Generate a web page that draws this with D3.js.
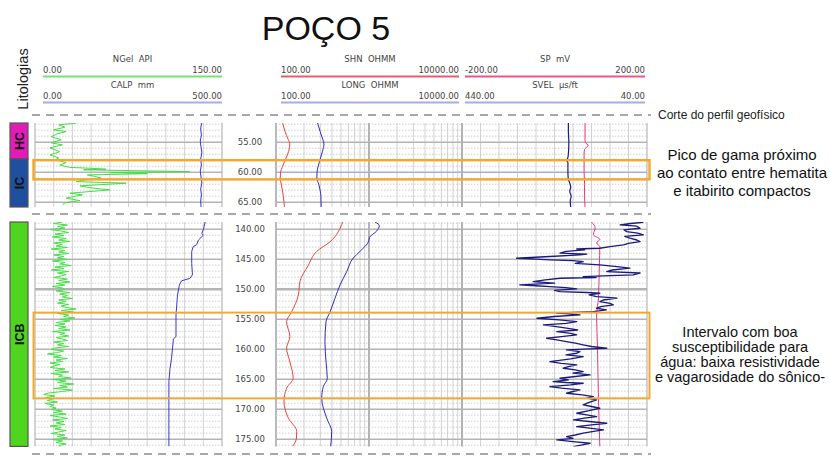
<!DOCTYPE html>
<html lang="pt">
<head>
<meta charset="utf-8">
<title>POÇO 5</title>
<script src="https://cdn.jsdelivr.net/npm/d3@7"></script>
<style>
  body { margin: 0; background: #fff; }
  svg { display: block; }
</style>
</head>
<body>
<svg id="chart" width="830" height="469"></svg>
<script>
// ===== データ =====

// 区間（深度 m）
const topInterval = [51.8, 65.8];
const bottomInterval = [138.8, 176.2];
const topDepthTicks = [55, 60, 65];
const bottomDepthTicks = [140, 145, 150, 155, 160, 165, 170, 175];

// ヘッダー
const curveNames = ['NGel  API', 'CALP  mm', 'SHN  OHMM', 'LONG  OHMM', 'SP  mV', 'SVEL  µs/ft'];
const curveMins = ['0.00', '0.00', '100.00', '100.00', '-200.00', '440.00'];
const curveMaxs = ['150.00', '500.00', '10000.00', '10000.00', '200.00', '40.00'];

// 岩相
const lithoNames = ['HC', 'IC', 'ICB'];
const lithoTops = [51.8, 57.8, 138.8];
const lithoBases = [57.8, 65.8, 176.2];

// オレンジ枠
const highlightTops = [58.0, 153.9];
const highlightBases = [61.2, 168.2];

// 注記
const cutLabel = 'Corte do perfil geofísico';
const noteTop = ['Pico de gama próximo', 'ao contato entre hematita', 'e itabirito compactos'];
const noteBottom = ['Intervalo com boa', 'susceptibilidade para', 'água: baixa resistividade', 'e vagarosidade do sônico-'];

// --- 上部区間の曲線 ---
const grTopDepth = [51.83, 52.1, 52.5, 52.95, 53.23, 53.6, 54.07, 54.6, 55.1, 55.45, 55.95, 56.57, 57.12, 57.6, 57.95, 58.4, 58.8, 59.2, 59.35, 59.5, 59.6, 59.75, 59.9, 60.07, 60.25, 60.45, 60.7, 61.0, 61.3, 61.57, 61.83, 62.28, 62.6, 62.95, 63.5, 63.78, 64.1, 64.33, 64.73, 65.1, 65.45];
const grTopValue = [33, 19, 24, 15, 25, 18, 13, 21, 13, 22, 12, 20, 12, 19, 16, 25, 20, 28, 45, 57, 39, 80, 124, 60, 90, 42, 48, 53, 40, 33, 73, 36, 45, 60, 28, 38, 30, 25, 36, 24, 22];

const calpTopDepth = [51.8, 52.8, 53.8, 54.8, 55.8, 56.8, 57.8, 58.8, 59.8, 60.8, 61.8, 62.8, 63.8, 64.8, 65.8];
const calpTopValue = [446, 443, 445, 442, 444, 446, 443, 445, 442, 444, 446, 443, 445, 443, 444];

const resTopDepth = [51.8, 53.2, 54.5, 55.3, 56.5, 57.8, 59, 60, 61, 62, 63, 64, 65.8];
const shnTopValue = [118, 125, 135, 141, 137, 127, 118, 112, 111, 114, 117, 120, 123];
const longTopValue = [280, 298, 318, 328, 316, 299, 284, 276, 275, 288, 298, 304, 306];

const spTopDepth = [51.8, 53, 54.6, 55.1, 55.5, 55.8, 56.2, 57, 58, 60, 62, 64, 65.8];
const spTopValue = [66, 66, 66, 67, 73, 70, 65, 64, 64, 64, 65, 65, 66];

const svelTopDepth = [51.8, 53, 55, 57, 57.8, 58.0, 58.4, 60, 61.2, 61.8, 62.5, 63.2, 64, 64.8, 65.8];
const svelTopValue = [210, 210, 209, 210, 212, 214, 211, 211, 210, 207, 205, 207, 204, 206, 205];

// --- 下部区間の曲線 ---
const grBottomStart = 138.8, grBottomStep = 0.25;
const grBottomValue = [22, 15, 26, 18, 24, 12, 21, 27, 16, 23, 14, 25, 19, 28, 15, 22, 17, 26, 13, 24, 19, 27, 15, 23, 18,
  26, 14, 24, 20, 29, 16, 23, 13, 27, 18, 25, 21, 15, 26, 19, 28, 17, 24, 14, 22,
  24, 17, 28, 20, 26, 22, 30, 19, 25, 18, 27, 21,
  25, 33, 21, 31, 18, 27, 23, 32, 20, 28, 17, 24,
  16, 25, 19, 28, 14, 24, 20, 27, 17, 22, 26, 15, 23, 18, 27, 16,
  13, 23, 18, 10, 21, 15, 26, 17, 22, 12, 20, 15,
  12, 24, 16, 27, 13, 22, 19, 29, 14, 25, 18, 31, 20, 26, 15, 30, 22,
  11, 7, 16, 9, 14, 10, 18, 8, 15, 12, 17,
  13, 22, 15, 25, 12, 20, 26, 14, 23, 17, 24, 12, 21, 16, 25, 19, 13, 24, 18, 26, 14, 22, 17, 25, 19, 21];

const calpBottomDepth = [138.8, 140.1, 140.7, 141.0, 141.8, 142.6, 142.9, 143.7, 145.7, 147.6, 148.2, 148.6, 149.3, 151.0, 154.3, 157.9, 158.3, 161.6, 163.2, 165.4, 176.2];
const calpBottomValue = [455, 450, 446, 450, 437, 432, 423, 419, 419, 421, 414, 392, 386, 381, 377, 377, 370, 365, 361, 358, 358];

const shnBottomDepth = [138.8, 142.1, 143.7, 146.0, 148.7, 151.0, 153.8, 155.4, 157.9, 159.8, 162.1, 164.8, 166.5, 168.7, 171.5, 173.7, 174.8, 176.2];
const shnBottomValue = [521, 381, 274, 223, 181, 174, 147, 130, 141, 130, 141, 153, 130, 122, 136, 167, 166, 151];

const longBottomDepth = [138.8, 139.4, 140.3, 141.4, 142.0, 143.7, 144.8, 147.1, 149.3, 151.5, 153.8, 155.4, 158.8, 162.1, 164.9, 166.2, 168.2, 171.5, 173.7, 176.2];
const longBottomValue = [1160, 1291, 1210, 1008, 993, 800, 678, 575, 488, 431, 381, 345, 336, 345, 356, 323, 310, 351, 397, 387];

const spBottomDepth = [138.8, 139.8, 140.9, 141.7, 142.3, 142.9, 145.9, 151.5, 154.3, 159.8, 168.2, 176.2];
const spBottomValue = [80, 88, 84, 98, 91, 98, 97, 95, 91, 93, 95, 98];

const svelBottomDepth = [138.84, 139.05, 139.28, 139.5, 139.84, 140.1, 140.4, 140.65, 140.95, 141.2, 141.5, 141.8, 142.06, 142.35, 142.62, 142.9, 143.17, 143.3, 143.45, 143.7, 144.0, 144.15, 144.28, 144.55, 144.84, 145.0, 145.12, 145.25, 145.4, 145.7, 145.95, 146.2, 146.5, 146.8, 147.06, 147.3, 147.62, 147.75, 147.9, 148.05, 148.17, 148.45, 148.73, 149.0, 149.28, 149.42, 149.56, 149.75, 149.95, 150.2, 150.4, 150.55, 150.67, 150.95, 151.23, 151.35, 151.5, 151.8, 152.06, 152.35, 152.62, 152.9, 153.17, 153.45, 153.73, 153.85, 154.0, 154.15, 154.28, 154.55, 154.84, 155.1, 155.4, 155.7, 155.95, 156.2, 156.5, 156.8, 157.06, 157.35, 157.62, 157.9, 158.17, 158.45, 158.73, 159.0, 159.28, 159.55, 159.84, 159.98, 160.12, 160.4, 160.67, 160.95, 161.23, 161.6, 162.06, 162.35, 162.62, 162.9, 163.17, 163.45, 163.73, 164.0, 164.28, 164.55, 164.84, 165.1, 165.4, 165.55, 165.67, 165.95, 166.23, 166.5, 166.78, 167.05, 167.34, 167.6, 167.9, 168.15, 168.45, 168.85, 169.28, 169.55, 169.84, 170.25, 170.67, 170.95, 171.23, 171.5, 171.78, 172.05, 172.34, 172.6, 172.9, 173.2, 173.45, 173.7, 174.0, 174.3, 174.56, 174.85, 175.12, 175.4, 175.67, 175.95, 176.23];
const svelBottomValue = [48, 75, 98, 62, 55, 90, 84, 60, 48, 88, 77, 62, 55, 80, 91, 120, 142, 192, 175, 215, 228, 170, 185, 250, 322, 280, 250, 200, 178, 195, 142, 110, 77, 115, 127, 55, 70, 120, 178, 150, 228, 260, 286, 240, 315, 280, 250, 215, 192, 240, 228, 170, 142, 165, 149, 125, 105, 135, 142, 120, 113, 140, 149, 128, 156, 200, 235, 200, 185, 240, 278, 230, 192, 215, 264, 240, 214, 190, 235, 205, 192, 225, 257, 235, 214, 195, 178, 160, 127, 175, 214, 185, 192, 215, 178, 205, 250, 225, 192, 210, 221, 195, 178, 200, 163, 195, 228, 210, 243, 215, 178, 205, 250, 225, 185, 200, 214, 180, 156, 170, 149, 165, 178, 160, 142, 165, 192, 170, 149, 175, 199, 165, 127, 160, 192, 160, 134, 155, 178, 195, 214, 200, 235, 200, 163, 180, 199];

// ===== レイアウト =====
const svg = d3.select('#chart');
const trackGR = [35, 222], trackDepth = [222, 276], trackRes = [276, 462], trackSon = [462, 647];
const headerX = [[43, 222], [43, 222], [281, 459], [281, 459], [465, 645], [465, 645]];
const headerColors = ['#74e474', '#aaaaf0', '#e0606e', '#aaaaf0', '#e4588a', '#aaaaf0'];
const lithoColors = { HC: '#e21cb6', IC: '#1f4f9f', ICB: '#4fd41f' };
const monoFont = '"DejaVu Sans", Verdana, sans-serif';
const sansFont = '"Liberation Sans", Arial, sans-serif';

// スケール
const xGR = d3.scaleLinear().domain([0, 150]).range(trackGR);
const xCALP = d3.scaleLinear().domain([0, 500]).range(trackGR);
const xRes = d3.scaleLog().domain([100, 10000]).range(trackRes);
const xSP = d3.scaleLinear().domain([-200, 200]).range(trackSon);
const xSVEL = d3.scaleLinear().domain([440, 40]).range(trackSon);

const grBottomDepth = grBottomValue.map((_, i) => grBottomStart + i * grBottomStep);

const sections = [
    {
        id: 'top', interval: topInterval, range: [123, 207], ticks: topDepthTicks, cursor: 60,
        curves: [
            { depth: grTopDepth, value: grTopValue, x: xGR, color: '#45de45', width: 1, smooth: false },
            { depth: calpTopDepth, value: calpTopValue, x: xCALP, color: '#3838cc', width: 1, smooth: true },
            { depth: resTopDepth, value: shnTopValue, x: xRes, color: '#e2463f', width: 1, smooth: true },
            { depth: resTopDepth, value: longTopValue, x: xRes, color: '#2c2cb8', width: 1, smooth: true },
            { depth: spTopDepth, value: spTopValue, x: xSP, color: '#e8357e', width: 1, smooth: true },
            { depth: svelTopDepth, value: svelTopValue, x: xSVEL, color: '#1b1b7a', width: 1.2, smooth: true }
        ]
    },
    {
        id: 'bottom', interval: bottomInterval, range: [222, 446.4], ticks: bottomDepthTicks, cursor: null,
        curves: [
            { depth: grBottomDepth, value: grBottomValue, x: xGR, color: '#45de45', width: 1, smooth: false },
            { depth: calpBottomDepth, value: calpBottomValue, x: xCALP, color: '#3838cc', width: 1, smooth: false },
            { depth: shnBottomDepth, value: shnBottomValue, x: xRes, color: '#e2463f', width: 1, smooth: true },
            { depth: longBottomDepth, value: longBottomValue, x: xRes, color: '#2c2cb8', width: 1, smooth: true },
            { depth: spBottomDepth, value: spBottomValue, x: xSP, color: '#e8357e', width: 1, smooth: true },
            { depth: svelBottomDepth, value: svelBottomValue, x: xSVEL, color: '#1b1b7a', width: 1.35, smooth: false }
        ]
    }
];

// ===== タイトル =====
svg.append('text')
    .attr('x', 326).attr('y', 39.5)
    .attr('text-anchor', 'middle')
    .style('font-family', sansFont).style('font-size', '34px').style('fill', '#111')
    .text('POÇO 5');

svg.append('text')
    .attr('transform', 'translate(28,79) rotate(-90)')
    .attr('text-anchor', 'middle')
    .style('font-family', sansFont).style('font-size', '14.5px').style('fill', '#222')
    .text('Litologias');

// ===== ヘッダー =====
curveNames.forEach((name, i) => {
    const row = i % 2;
    const [x0, x1] = headerX[i];
    const base = row === 0 ? 0 : 26;
    const g = svg.append('g').style('font-family', monoFont).style('font-size', '8.5px').style('fill', '#444');
    g.append('text').attr('x', (x0 + x1) / 2).attr('y', 61.5 + base).attr('text-anchor', 'middle')
        .style('white-space', 'pre').text(name);
    g.append('text').attr('x', x0).attr('y', 73 + base).text(curveMins[i]);
    g.append('text').attr('x', x1).attr('y', 73 + base).attr('text-anchor', 'end').text(curveMaxs[i]);
    svg.append('line').attr('x1', x0).attr('x2', x1).attr('y1', 76.5 + base).attr('y2', 76.5 + base)
        .attr('stroke', headerColors[i]).attr('stroke-width', 2);
});

// ===== 各区間 =====
sections.forEach(sec => {
    const y = d3.scaleLinear().domain(sec.interval).range(sec.range);
    const [yA, yB] = sec.range;
    const g = svg.append('g');

    const clipId = 'clip-' + sec.id;
    svg.append('clipPath').attr('id', clipId)
        .append('rect').attr('x', trackGR[0]).attr('y', yA)
        .attr('width', trackSon[1] - trackGR[0]).attr('height', yB - yA);

    // 縦グリッド
    const vLines = [];
    d3.range(0, 151, 15).forEach(v => vLines.push({ x: xGR(v), edge: v === 0 || v === 150, strong: false }));
    xRes.ticks().forEach(v => {
        const decade = Math.abs(Math.log10(v) % 1) < 1e-9;
        vLines.push({ x: xRes(v), edge: v === 100 || v === 10000, strong: decade });
    });
    d3.range(-200, 201, 40).forEach(v => vLines.push({ x: xSP(v), edge: v === -200 || v === 200, strong: false }));

    g.selectAll('.vgrid').data(vLines).enter().append('line')
        .attr('x1', d => d.x).attr('x2', d => d.x).attr('y1', yA).attr('y2', yB)
        .attr('stroke', d => d.edge ? '#a8a8a8' : d.strong ? '#a0a0a0' : '#d2d2d2')
        .attr('stroke-width', d => d.strong ? 1.6 : 1);

    // 横グリッド
    const depths = d3.range(Math.ceil(sec.interval[0]), Math.floor(sec.interval[1]) + 1);
    [trackGR, trackRes, trackSon].forEach(tr => {
        depths.forEach(d => {
            const major = d % 5 === 0;
            const isCursor = sec.cursor === d && tr !== trackGR;
            g.append('line')
                .attr('x1', tr[0]).attr('x2', tr[1]).attr('y1', y(d)).attr('y2', y(d))
                .attr('stroke', isCursor ? '#a9a9ee' : major ? '#b4b4b4' : '#c4c4c4')
                .attr('stroke-width', major ? (d % 50 === 0 ? 2.6 : 1.4) : 0.8)
                .attr('stroke-dasharray', major ? null : '1.5,1.5');
        });
    });

    // 深度ラベル
    g.selectAll('.depth').data(sec.ticks).enter().append('text')
        .attr('x', (trackDepth[0] + trackDepth[1]) / 2 + 1)
        .attr('y', d => y(d) + 3)
        .attr('text-anchor', 'middle')
        .style('font-family', monoFont).style('font-size', '8.5px').style('fill', '#444')
        .text(d => d.toFixed(2));

    // 曲線
    const cg = g.append('g').attr('clip-path', `url(#${clipId})`);
    sec.curves.forEach(c => {
        const pts = c.depth.map((d, i) => [c.x(c.value[i]), y(d)]);
        const line = d3.line().curve(c.smooth ? d3.curveMonotoneY : d3.curveLinear);
        cg.append('path').attr('d', line(pts))
            .attr('fill', 'none').attr('stroke', c.color).attr('stroke-width', c.width)
            .attr('stroke-linejoin', 'round');
    });

    // 岩相
    lithoNames.forEach((name, i) => {
        if (lithoTops[i] < sec.interval[0] || lithoBases[i] > sec.interval[1] + 0.01) return;
        const t = y(lithoTops[i]), b = y(lithoBases[i]);
        g.append('rect').attr('x', 10).attr('y', t).attr('width', 18).attr('height', b - t)
            .attr('fill', lithoColors[name]).attr('stroke', '#555').attr('stroke-width', 1.2);
        g.append('text')
            .attr('transform', `translate(${19 + 4.5},${(t + b) / 2}) rotate(-90)`)
            .attr('text-anchor', 'middle')
            .style('font-family', sansFont).style('font-size', '12.5px').style('font-weight', 'bold')
            .style('fill', '#111').text(name);
    });
});

// ===== オレンジ枠 =====
const yTop = d3.scaleLinear().domain(sections[0].interval).range(sections[0].range);
const yBot = d3.scaleLinear().domain(sections[1].interval).range(sections[1].range);
[yTop, yBot].forEach((y, i) => {
    svg.append('rect')
        .attr('x', 33.5).attr('y', y(highlightTops[i]))
        .attr('width', 616).attr('height', y(highlightBases[i]) - y(highlightTops[i]))
        .attr('fill', 'none').attr('stroke', '#f4a72a').attr('stroke-width', i === 0 ? 2.4 : 1.9);
});

// ===== 破線（区切り） =====
[115, 214, 454].forEach(yy => {
    svg.append('line').attr('x1', 32).attr('x2', 651).attr('y1', yy).attr('y2', yy)
        .attr('stroke', '#8a8a8a').attr('stroke-width', 1.3).attr('stroke-dasharray', '8,6');
});

// ===== 注記 =====
svg.append('text').attr('x', 658).attr('y', 118.5)
    .style('font-family', sansFont).style('font-size', '12px').style('fill', '#222')
    .text(cutLabel);

svg.append('g').selectAll('text').data(noteTop).enter().append('text')
    .attr('x', 742).attr('y', (d, i) => 160 + i * 18)
    .attr('text-anchor', 'middle')
    .style('font-family', sansFont).style('font-size', '15px').style('fill', '#111')
    .text(d => d);

svg.append('g').selectAll('text').data(noteBottom).enter().append('text')
    .attr('x', 740).attr('y', (d, i) => 336.5 + i * 15.3)
    .attr('text-anchor', 'middle')
    .style('font-family', sansFont).style('font-size', '14.5px').style('fill', '#111')
    .text(d => d);
</script>
</body>
</html>
